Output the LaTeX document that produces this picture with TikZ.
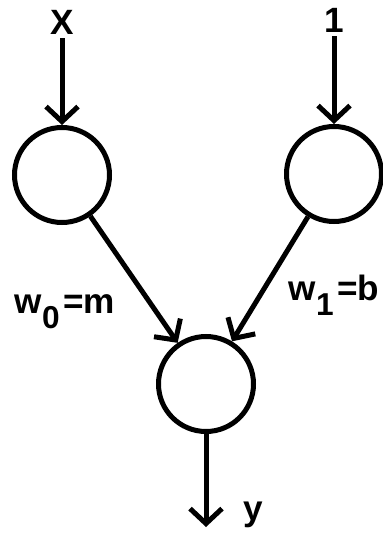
\documentclass[tikz,border=0pt]{standalone}
\usepackage{fontspec}
\setmainfont{Liberation Sans}
\usetikzlibrary{arrows.meta, positioning}
\newcommand{\wsub}[1]{\raisebox{-0.45em}{\fontsize{18}{18}\selectfont\bfseries #1}\kern2pt}

\begin{document}
\begin{tikzpicture}[
  neuron/.style={circle, draw=black, line width=0.1cm, minimum size=1.9cm, inner sep=0pt},
  lbl/.style={font=\fontsize{20}{24}\selectfont\bfseries, inner sep=2pt},
  arr/.style={-{Straight Barb[length=0.3cm, width=0.64cm]}, line width=0.1cm}
]
  \useasboundingbox (0,0) rectangle (7.64,-10.66);
  \node[neuron] (lft) at (1.24,-3.50) {};
  \node[neuron] (rgt) at (6.68,-3.48) {};
  \node[neuron] (out) at (4.12,-7.68) {};
  \node[lbl, above=1.73cm of lft] (xin) {X};
  \node[lbl, above=1.75cm of rgt] (one) {1};
  \coordinate[below=1.86cm of out] (yend);
  \node[lbl, anchor=base west] (w0) at (0.22,-6.26) {w\wsub{0}=m};
  \node[lbl, anchor=base west] (w1) at (5.70,-6.00) {w\wsub{1}=b};
  \node[lbl, anchor=base west] (ylbl) at (4.80,-10.40) {y};
  \draw[arr] (xin) -- (lft);
  \draw[arr] (one) -- (rgt);
  \draw[arr] (lft) -- (out);
  \draw[arr] (rgt) -- (out);
  \draw[arr] (out) -- (yend);
\end{tikzpicture}
\end{document}
